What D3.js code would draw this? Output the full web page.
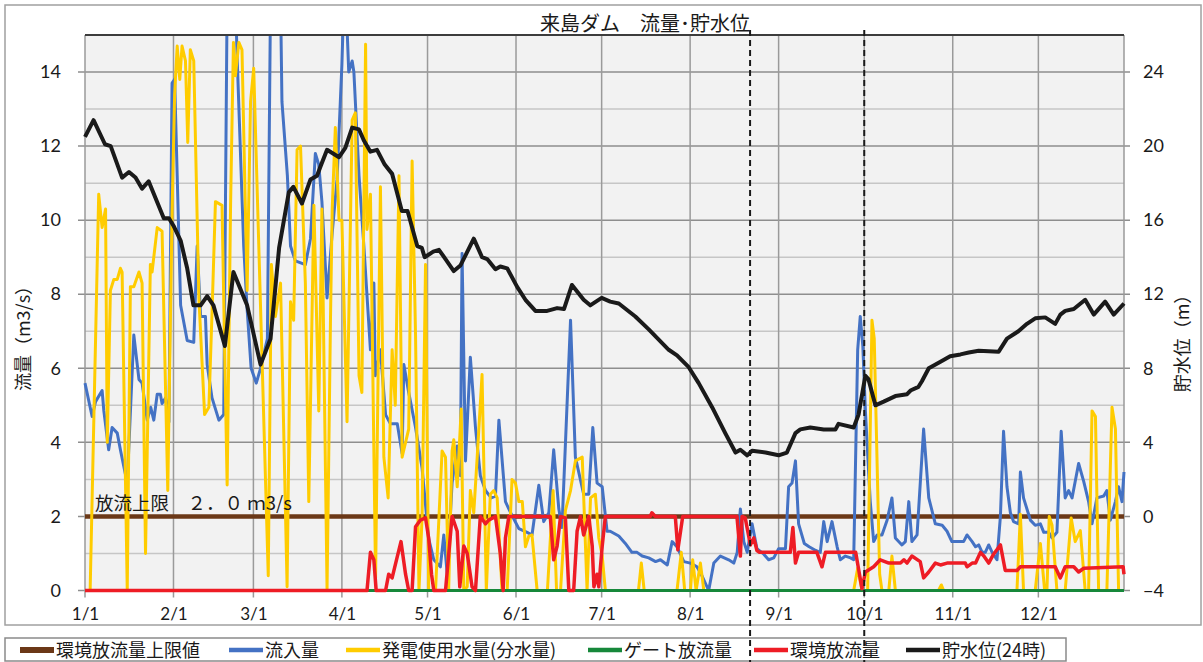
<!DOCTYPE html>
<html>
<head>
<meta charset="utf-8">
<script src="https://cdn.jsdelivr.net/npm/d3@7"></script>
<style>
  body { margin: 0; background: #fff; }
  svg { display: block; }
  text { font-family: "Noto Sans CJK JP", sans-serif; fill: #1a1a1a; }
  .num { font-family: Lato, "Noto Sans CJK JP", sans-serif; }
</style>
</head>
<body>
<svg id="chart" width="1203" height="662"></svg>
<script>
// x = day of year (0 = 1/1)
const monthStarts = [0, 31, 59, 90, 120, 151, 181, 212, 243, 273, 304, 334];
const monthLabels = ['1/1', '2/1', '3/1', '4/1', '5/1', '6/1', '7/1', '8/1', '9/1', '10/1', '11/1', '12/1'];
const flowTicks = [0, 2, 4, 6, 8, 10, 12, 14];
const levelTicks = [-4, 0, 4, 8, 12, 16, 20, 24];
const markerDays = [233, 273];

const limitFlow = [[0, 2], [364, 2]];
const gateFlow = [[0, 0], [364, 0]];

const inflow = [
  [0,5.6],[2.5,4.7],[3.7,5.1],[6,5.4],[6.6,4.85],[8.3,3.8],[9.5,4.4],[11.3,4.25],[12.4,3.8],[14.8,2.9],
  [17.1,6.9],[18.9,5.7],[20,5.6],[21.8,4.6],[23,4.95],[24.1,4.6],[25.3,5.3],[26.4,5.3],[27,5.05],[28.2,5.2],
  [29.4,4.55],[30.5,13.7],[31.4,13.8],[32.3,11.2],[33.5,7.7],[35.8,6.75],[38.1,6.7],[39.3,9.3],[40.5,7.4],
  [42.2,7.4],[42.8,6.1],[44.5,5.2],[46.9,4.6],[48.6,4.75],[49.8,16],[52.7,16],[53.3,14.4],[55.6,9.3],
  [56.8,7.6],[58.2,6.0],[60,5.6],[61.5,6.0],[63.9,6.8],[65,16],[68.5,16],[69,13.2],[70.9,11.2],[72,9.3],
  [73.7,8.9],[77.2,8.8],[79,9.5],[80.7,11.8],[81.9,11.5],[83,10.5],[84.8,7.9],[86.6,9.65],[88.3,11.1],
  [90,14.2],[90.7,16],[91.4,16],[92.4,14.0],[93.6,14.3],[94.2,14.0],[96,11.2],[97.7,9.3],[100,6.5],
  [101.2,8.3],[101.7,5.8],[103.5,6.5],[105.3,4.75],[107,4.5],[109.4,4.5],[111.1,3.7],[111.7,6.1],
  [113.4,5.35],[115.8,4.4],[118.1,3.3],[120.4,1.4],[122.2,0.83],[124.5,0.64],[125.7,1.5],[126.9,0.44],
  [128.6,2.9],[130.4,3.9],[131.5,3.1],[132.1,9.1],[133.3,3.5],[135,6.3],[136.8,4.4],[138.5,3.1],
  [140.3,2.7],[142.3,2.5],[143.8,2.55],[145,4.6],[147.3,2.4],[149.1,2.1],[152,1.67],[154.9,1.57],
  [156.6,1.5],[159,2.84],[160.7,1.86],[162.5,2.1],[164.2,3.8],[166,2.2],[167.1,1.7],[170.1,7.3],
  [171.8,3.6],[174.7,2.6],[176.5,2.6],[177.9,4.4],[179.4,2.9],[181.2,2.8],[182.9,1.6],[184,1.6],
  [187,1.47],[189.3,1.27],[191.6,1.03],[193.4,1.03],[195.2,0.93],[197.5,0.88],[199.9,0.78],[201.6,0.83],
  [204,0.69],[205.7,1.32],[207.4,1.18],[209.8,0.78],[212.1,0.74],[214.4,0.64],[216.2,0.39],[218.5,0],
  [220.3,0.74],[222.6,0.93],[225.5,0.83],[227.3,0.74],[228.5,1.03],[229.6,2.2],[230.8,1.32],[232,1.03],
  [233.7,1.8],[235.4,1.13],[237.8,0.98],[239.5,0.83],[241.3,0.88],[243,1.13],[245.4,1.13],[246.5,2.8],
  [247.7,2.9],[248.9,3.5],[250,1.8],[252,1.27],[253.7,1.18],[256,1.08],[257.6,1.03],[258.8,1.86],
  [260,1.32],[261.7,1.86],[263.5,1.18],[264.6,0.83],[266.4,0.93],[268.2,0.88],[269.3,0.83],[270.7,6.5],
  [271.6,7.4],[272.5,6.6],[273.4,4.85],[275.1,2.4],[276.3,1.32],[277.5,1.5],[279.2,1.5],[281,1.9],
  [282.7,2.5],[283.9,1.42],[286.2,1.23],[287.4,1.32],[288.6,2.4],[289.7,1.32],[291.5,1.5],[293.8,4.36],
  [295.6,2.5],[297.9,1.8],[300.3,1.76],[302,1.6],[303.7,1.32],[307.8,1.32],[309,1.5],[310.8,1.32],
  [312,1.18],[313.1,1.23],[314.3,1.03],[315.4,1.03],[316.6,1.23],[317.8,1.03],[319.5,0.83],[320.7,2.0],
  [321.8,4.3],[323,2.8],[324.2,2.1],[325.3,1.86],[327.1,1.8],[327.7,3.2],[328.8,2.5],[330,2.2],
  [331.2,1.9],[332.9,1.76],[334.7,1.8],[335.9,1.57],[337.6,1.57],[338.8,1.42],[340.5,1.57],[342,4.3],
  [343.4,2.5],[344.6,2.7],[345.8,2.5],[348.1,3.43],[349.9,2.94],[351.6,2.4],[352.8,1.8],[354.5,2.5],
  [356.9,2.55],[358,2.7],[359.2,1.9],[361,2.4],[362.1,2.8],[363.3,2.4],[364,3.2]
];

const powerUse = [
  [0,0],[1.8,0],[4.8,10.7],[6,9.8],[7.2,10.3],[7.8,4.0],[8.9,8.1],[10.1,8.4],[11.3,8.4],[12.4,8.7],
  [13,8.6],[14.8,0],[15.9,8.2],[17.1,8.2],[18.9,8.6],[20,8.3],[21.2,1.0],[22.9,8.8],[23.5,8.6],[25.3,9.8],
  [27,9.7],[29,2.7],[30.5,10.2],[31.4,13.4],[32.3,14.7],[33.2,13.8],[34,14.7],[35.2,14.3],[36,12.1],
  [36.9,14.6],[38.1,14.3],[39.9,7.9],[41.9,4.75],[43.4,4.95],[44.5,7.5],[45.7,10.5],[48,10.4],[49.8,2.85],
  [51,10.4],[52,14.8],[52.7,13.9],[53.9,14.8],[55,14.6],[56.8,8.1],[58,13.2],[59.1,14.1],[64.2,0.4],
  [65.3,8.8],[66.7,7.4],[68.5,8.3],[70.8,0.1],[72,7.8],[73.1,7.3],[74.3,11.9],[75.5,12],[77.2,8.3],
  [78.4,2.4],[80.2,10.4],[81.9,4.85],[83,10.3],[84.8,0.05],[86,7.3],[86.6,10.3],[87.7,12.5],[89,10],
  [90,10],[91.8,4.56],[93.6,12.7],[94.7,12.9],[96,5.8],[97,5.35],[98.3,14.75],[98.8,9.75],[100,10.7],
  [101.8,0.34],[103.5,10.9],[104.7,3.6],[106.2,2.5],[107.6,6.5],[108.7,5.0],[110,11.2],[111.1,3.6],
  [113.4,4.36],[114.6,11.6],[115.8,6.9],[117,0],[118.1,2.0],[119.3,8.8],[120.4,0],[122.8,0],[125.1,3.77],
  [126.3,3.6],[127.4,0],[128.6,3.77],[129.2,4.07],[130.4,2.8],[131.8,4.9],[132.7,0],[133.9,0.1],[135,2.7],
  [136.2,2.1],[137.4,3.6],[139.1,5.83],[140.6,0],[142,2.6],[143.2,2.7],[144.4,2.5],[146.1,0],[147.9,0],
  [149.6,3.0],[150.8,2.9],[152,2.4],[153.2,2.4],[154.3,1.18],[155.5,1.47],[156.6,1.5],[158.4,0],[162,0],
  [164,2.7],[165.2,0],[166.6,0],[168.3,2.16],[170.1,2.7],[171.8,3.5],[174.2,3.6],[175.9,0],[177.1,2.5],
  [178.8,2.6],[180,1.42],[181.2,0.93],[182.3,0],[193.9,0],[194.9,0.74],[195.9,0],[207.4,0],[208.9,1.03],
  [210.1,0],[212.1,0],[212.9,0.83],[214.1,0],[215.6,0.74],[216.8,0],[269.3,0],[270.7,0.6],[272.2,0],
  [274.2,0],[275.7,7.3],[276.5,6.8],[278.4,0.44],[279.2,0],[281.6,0],[282.7,0.93],[283.9,0],[299,0],
  [300,0.15],[300.8,0],[326.5,0],[327.7,2.06],[328.8,0],[332.9,0],[334.7,1.27],[336.2,0],[337,0],
  [337.8,2.0],[338.8,1.76],[340.5,0],[343.4,0],[345.5,1.96],[346.9,1.32],[348.7,1.62],[350.4,0],
  [351.6,0],[352.8,4.85],[354,4.7],[355.1,0],[358,0],[359.8,4.95],[361,4.36],[362.1,0],[364,0]
];

const envFlow = [
  [0,0],[98.8,0],[100,1.03],[101.2,0.83],[102,0],[105.3,0],[106.4,0.44],[107.6,0.34],[109.3,0.88],
  [110.7,1.32],[112.3,0.44],[113.4,0],[114.6,0],[115.8,1.72],[117.5,1.9],[119.3,1.96],[120.4,1.42],
  [121.4,0.44],[122.2,0],[126.3,0],[128.6,2.0],[130.4,1.6],[131.3,0.1],[132.7,1.2],[133.9,1.0],
  [135.6,0.1],[136.8,0],[138.5,2.0],[140.3,1.8],[141.4,1.9],[143.8,2.0],[145.5,1.0],[146.5,0],
  [147.3,1.42],[148.5,2.0],[163,2.0],[164.2,0.83],[165.4,1.2],[166.6,2.0],[168.3,1.96],[169.5,0],
  [171.2,0],[172.4,1.6],[173.6,2.0],[174.7,1.5],[176.5,2.0],[177.7,1.2],[178.3,0.1],[179.4,0.44],
  [180,0.1],[181.2,1.2],[182.3,2.0],[198,2.0],[198.6,2.1],[199.8,2.0],[206.8,2.0],[207.7,1.1],
  [209.4,2.0],[228.4,2.0],[229.6,0.93],[230.2,2.0],[231.3,1.96],[233.1,1.23],[234.3,1.42],[235.4,1.08],
  [236.3,1.03],[247.1,1.03],[248,1.7],[248.9,0.74],[250,1.03],[256.4,1.03],[258.2,0.64],[259.4,1.03],
  [270,1.03],[271.1,0.54],[272.2,0.05],[273.4,0.5],[276.3,0.64],[278.6,0.83],[281.6,0.74],[285.7,0.74],
  [286.9,0.83],[288,0.74],[289.7,0.93],[292.6,0.78],[293.8,0.34],[295.6,0.5],[297.9,0.74],[299.7,0.69],
  [302,0.74],[308.4,0.74],[309,0.64],[310.8,0.74],[312,0.74],[313.7,1.03],[314.9,0.93],[316.6,0.74],
  [318.3,0.98],[320.7,1.23],[322.4,0.54],[326.5,0.54],[327.7,0.64],[339.9,0.64],[341.7,0.34],
  [343.4,0.64],[346.4,0.64],[348.1,0.5],[349.9,0.6],[363.7,0.64],[364,0.44]
];

const storage = [
  [0,20.5],[3,21.4],[7,20.1],[9,20.0],[13,18.3],[15.4,18.6],[17.7,18.3],[20,17.7],[22.3,18.1],[27.6,16.1],
  [29.4,16.1],[31,15.7],[33.5,14.9],[35.8,13.4],[38,11.4],[40.5,11.4],[42.8,11.9],[45,11.4],[49,9.2],
  [52,13.2],[56.8,11.4],[61.5,8.2],[65,9.6],[68,14.5],[71.4,17.5],[73,17.8],[76,16.9],[79,18.2],
  [81.3,18.4],[82.5,18.9],[84.8,19.8],[89,19.4],[91.2,19.9],[93.6,21.0],[96,20.9],[97.7,20.3],[100,19.7],
  [102.3,19.8],[105,19.0],[107.6,18.5],[111,16.5],[113,16.5],[116.4,14.6],[118,14.5],[119,14.0],
  [122,14.3],[124,14.4],[126.3,13.9],[129.2,13.25],[131.5,13.55],[133.3,14.1],[136.2,15.0],[139.1,14.0],
  [140.9,13.9],[143.8,13.35],[145.5,13.5],[147.9,13.4],[151.4,12.4],[154.3,11.7],[157.8,11.1],[161.9,11.1],
  [165.4,11.25],[167.8,11.2],[170.6,12.5],[174.7,11.7],[177,11.4],[181,11.8],[184,11.6],[187,11.5],
  [192.8,10.8],[197.5,10.1],[204.5,9.0],[207.4,8.7],[211.5,8.06],[215,7.2],[219.7,5.9],[224.3,4.5],
  [227.9,3.45],[229.6,3.6],[232,3.3],[233.7,3.55],[238.4,3.45],[243,3.3],[245.9,3.45],[248.9,4.5],
  [250.6,4.7],[254.1,4.8],[258.8,4.7],[262.9,4.7],[264,5.0],[269.3,4.8],[271,5.5],[273.4,7.6],[274.5,7.4],
  [276.9,6.0],[279.8,6.2],[283.9,6.5],[288,6.6],[289.2,6.8],[292,7.0],[293.2,7.3],[295.6,8.0],[299.7,8.35],
  [303.1,8.65],[306.7,8.75],[309.6,8.85],[313.1,8.95],[320.1,8.9],[323,9.6],[327,10.0],[330,10.4],
  [332.9,10.7],[336.4,10.75],[339.9,10.4],[341.7,10.9],[343.4,11.1],[346.4,11.2],[350.4,11.7],[353.4,10.9],
  [357.4,11.6],[360.4,10.9],[364,11.5]
];

const series = [
  { name: '環境放流量上限値', data: limitFlow, color: '#6b3817', width: 4.5, axis: 'L' },
  { name: '流入量', data: inflow, color: '#4472c4', width: 3, axis: 'L' },
  { name: '発電使用水量(分水量)', data: powerUse, color: '#ffcc00', width: 3, axis: 'L' },
  { name: 'ゲート放流量', data: gateFlow, color: '#16883a', width: 3, axis: 'L' },
  { name: '環境放流量', data: envFlow, color: '#ee1c25', width: 3.5, axis: 'L' },
  { name: '貯水位(24時)', data: storage, color: '#1a1a1a', width: 4, axis: 'R' }
];
const legendX = [20, 229, 346, 588, 754, 906];

const svg = d3.select('#chart');
const plot = { left: 85, right: 1124, top: 35, bottom: 590.5 };

const x = d3.scaleLinear().domain([0, 364]).range([plot.left, plot.right]);
const yL = d3.scaleLinear().domain([0, 15]).range([plot.bottom, plot.top]);
const yR = d3.scaleLinear().domain([-4, 26]).range([plot.bottom, plot.top]);

// chart frame
svg.append('rect').attr('x', 5).attr('y', 5).attr('width', 1196).attr('height', 620)
  .attr('fill', '#fff').attr('stroke', '#a0a0a0').attr('stroke-width', 1.5);

svg.append('rect').attr('x', plot.left).attr('y', plot.top)
  .attr('width', plot.right - plot.left).attr('height', plot.bottom - plot.top)
  .attr('fill', '#f2f2f2');

// minor horizontal grid (odd values)
svg.append('g').selectAll('line').data(d3.range(1, 15, 2)).join('line')
  .attr('x1', plot.left).attr('x2', plot.right)
  .attr('y1', d => yL(d)).attr('y2', d => yL(d))
  .attr('stroke', '#c6c6c6').attr('stroke-width', 1.5);

// major horizontal grid, sticking out as ticks on both sides
svg.append('g').selectAll('line').data(flowTicks).join('line')
  .attr('x1', plot.left - 7).attr('x2', plot.right + 6)
  .attr('y1', d => yL(d)).attr('y2', d => yL(d))
  .attr('stroke', '#8e8e8e').attr('stroke-width', 1.5);

// month grid
svg.append('g').selectAll('line').data(monthStarts).join('line')
  .attr('x1', d => x(d)).attr('x2', d => x(d))
  .attr('y1', plot.top).attr('y2', plot.bottom + 7)
  .attr('stroke', '#9a9a9a').attr('stroke-width', 1.5);

svg.append('line').attr('x1', plot.right).attr('x2', plot.right)
  .attr('y1', plot.top).attr('y2', plot.bottom)
  .attr('stroke', '#9a9a9a').attr('stroke-width', 1.5);

// axes (labels only, the grid above carries the tick marks)
const axL = svg.append('g').attr('transform', `translate(${plot.left},0)`)
  .call(d3.axisLeft(yL).tickValues(flowTicks).tickSize(0).tickPadding(24));
const axR = svg.append('g').attr('transform', `translate(${plot.right},0)`)
  .call(d3.axisRight(yR).tickValues(levelTicks).tickSize(0).tickPadding(19));
const axB = svg.append('g').attr('transform', `translate(0,${plot.bottom})`)
  .call(d3.axisBottom(x).tickValues(monthStarts).tickFormat((d, i) => monthLabels[i]).tickSize(0).tickPadding(17));
[axL, axR, axB].forEach(a => {
  a.select('.domain').remove();
  a.selectAll('text').attr('class', 'num').attr('font-size', 18).attr('fill', '#1a1a1a');
});
axB.selectAll('text').attr('font-size', 17);

svg.append('defs').append('clipPath').attr('id', 'clip')
  .append('rect').attr('x', plot.left - 4).attr('y', plot.top)
  .attr('width', plot.right - plot.left + 8).attr('height', plot.bottom - plot.top + 4);

const lineL = d3.line().x(d => x(d[0])).y(d => yL(d[1]));
const lineR = d3.line().x(d => x(d[0])).y(d => yR(d[1]));

const lines = svg.append('g').attr('clip-path', 'url(#clip)');
series.forEach(s => {
  lines.append('path').datum(s.data)
    .attr('d', s.axis === 'L' ? lineL : lineR)
    .attr('fill', 'none').attr('stroke', s.color).attr('stroke-width', s.width)
    .attr('stroke-linejoin', 'round');
});

// plot top border
svg.append('line').attr('x1', plot.left).attr('x2', plot.right)
  .attr('y1', plot.top).attr('y2', plot.top)
  .attr('stroke', '#3c3c3c').attr('stroke-width', 2);

// upper limit note
svg.append('text').attr('x', x(3.5)).attr('y', yL(2) - 6)
  .attr('font-size', 18.5).text('放流上限　２．０ ｍ3/s');

// title
svg.append('text').attr('x', 645).attr('y', 31).attr('text-anchor', 'middle')
  .attr('font-size', 20).text('来島ダム　流量･貯水位');

// axis titles
svg.append('text').attr('transform', 'translate(30,334) rotate(-90)')
  .attr('text-anchor', 'middle').attr('font-size', 18).text('流量（m3/s）');
svg.append('text').attr('transform', 'translate(1189,339) rotate(-90)')
  .attr('text-anchor', 'middle').attr('font-size', 18).text('貯水位（m）');

// legend
svg.append('rect').attr('x', 5).attr('y', 638).attr('width', 1061).attr('height', 23)
  .attr('fill', '#fff').attr('stroke', '#8a8a8a').attr('stroke-width', 1.5);
const leg = svg.append('g').selectAll('g').data(series).join('g')
  .attr('transform', (d, i) => `translate(${legendX[i]},650)`);
leg.append('line').attr('x1', 0).attr('x2', 34)
  .attr('stroke', d => d.color).attr('stroke-width', (d, i) => i === 0 ? 6 : 4.5);
leg.append('text').attr('x', 36).attr('y', 6.5).attr('font-size', 18).text(d => d.name);

// reference dates (dashed)
svg.append('g').selectAll('line').data(markerDays).join('line')
  .attr('x1', d => x(d)).attr('x2', d => x(d))
  .attr('y1', 30).attr('y2', 662)
  .attr('stroke', '#1a1a1a').attr('stroke-width', 2).attr('stroke-dasharray', '6,4');
</script>
</body>
</html>
